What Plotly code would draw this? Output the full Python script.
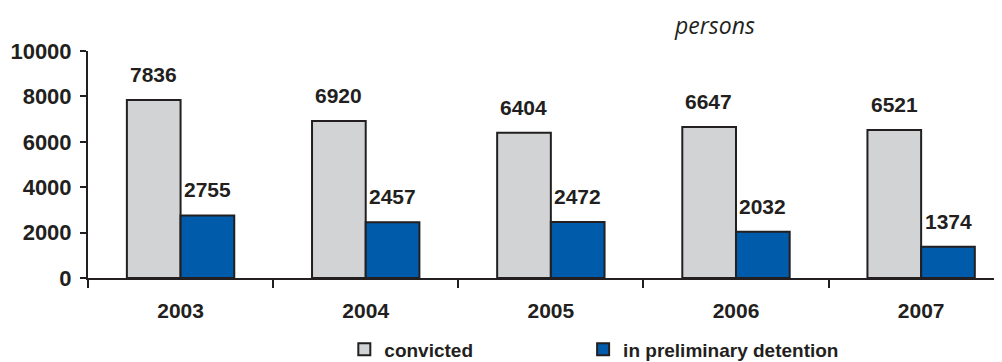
import plotly.graph_objects as go

# Data (persons)
years = ['2003', '2004', '2005', '2006', '2007']
convicted = [7836, 6920, 6404, 6647, 6521]
preliminary = [2755, 2457, 2472, 2032, 1374]

series_names = ['convicted', 'in preliminary detention']
y_ticks = [0, 2000, 4000, 6000, 8000, 10000]

ink = '#231F20'
gray = '#D1D3D4'
blue = '#005BAA'
font_family = 'Liberation Sans, Arial, sans-serif'

bar_w = 0.29

fig = go.Figure()

fig.add_trace(go.Bar(
    x=years, y=convicted, name=series_names[0],
    marker=dict(color=gray, line=dict(color=ink, width=2)),
    offset=-bar_w, width=bar_w, hoverinfo='x+y', legend='legend'
))
fig.add_trace(go.Bar(
    x=years, y=preliminary, name=series_names[1],
    marker=dict(color=blue, line=dict(color=ink, width=2)),
    offset=0, width=bar_w, hoverinfo='x+y', legend='legend2'
))

# value labels above bars (x given as category index)
for vals, shift in [(convicted, -27), (preliminary, 27)]:
    for i, v in enumerate(vals):
        fig.add_annotation(
            x=i, y=v, text=f"<b>{v}</b>", showarrow=False,
            xshift=shift, yshift=12, yanchor='bottom',
            font=dict(size=21, color=ink, family=font_family)
        )

# unit label
fig.add_annotation(
    x=0.679, y=1.114, xref='paper', yref='paper',
    xanchor='center', yanchor='middle',
    text="<i>persons</i>", showarrow=False,
    font=dict(size=23, color=ink, family='Open Sans, sans-serif')
)

legend_font = dict(size=19, color=ink, family=font_family, weight='bold')

fig.update_layout(
    width=1002, height=362,
    margin=dict(l=80, r=0, t=43, b=92, autoexpand=False),
    paper_bgcolor='white', plot_bgcolor='white',
    barmode='overlay',
    font=dict(family=font_family, color=ink),
    xaxis=dict(
        type='category', range=[-0.5, 4.48], automargin=False,
        showline=True, linecolor=ink, linewidth=2,
        ticks='outside', tickson='boundaries', ticklen=8, tickwidth=2, tickcolor=ink,
        tickfont=dict(size=21, color=ink, family=font_family, weight='bold'),
        ticklabelstandoff=13, showgrid=False
    ),
    yaxis=dict(
        range=[0, 10000], tickvals=y_ticks, tickformat='d', automargin=False,
        showline=True, linecolor=ink, linewidth=2,
        ticks='outside', ticklen=6, tickwidth=2, tickcolor=ink,
        tickfont=dict(size=22, color=ink, family=font_family, weight='bold'),
        ticklabelstandoff=4, showgrid=False, zeroline=False
    ),
    legend=dict(
        orientation='h', x=0.278, xanchor='left', y=-0.315, yanchor='middle',
        font=legend_font, bgcolor='rgba(0,0,0,0)'
    ),
    legend2=dict(
        orientation='h', x=0.537, xanchor='left', y=-0.315, yanchor='middle',
        font=legend_font, bgcolor='rgba(0,0,0,0)'
    ),
    showlegend=True
)

fig.write_html("out.html")
